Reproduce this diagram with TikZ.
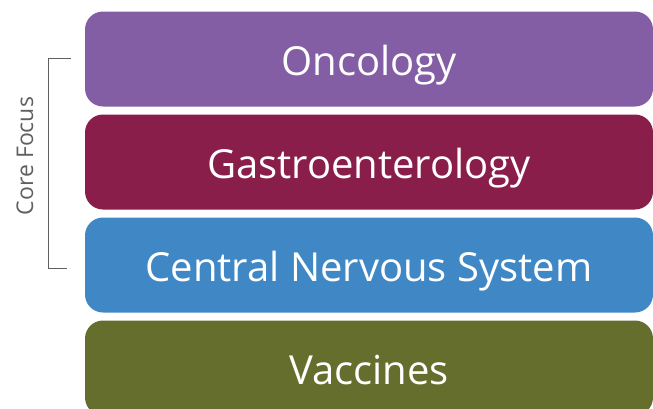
\documentclass[tikz,border=0pt]{standalone}
\usepackage{fontspec}
\setmainfont{Open Sans}
\usetikzlibrary{positioning}

\definecolor{oncpurple}{RGB}{132,94,165}
\definecolor{gastromaroon}{RGB}{138,30,74}
\definecolor{cnsblue}{RGB}{63,136,197}
\definecolor{vaccolive}{RGB}{102,110,46}
\definecolor{bracketgray}{RGB}{96,96,96}

\tikzset{
  area/.style={rounded corners=18pt, minimum width=568pt, minimum height=95pt,
    inner sep=0pt, text height=36pt, text depth=3.5pt, text=white,
    font=\fontsize{40}{44}\selectfont}
}

\begin{document}
\begin{tikzpicture}[x=1pt, y=-1pt]
			\useasboundingbox (0,0) rectangle (653,408);
			\clip (0,0) rectangle (653,408);

			% therapeutic areas
			\node[area, fill=oncpurple]    (onc)   at (369,59)  {Oncology};
			\node[area, fill=gastromaroon] (gastro) at (369,162) {Gastroenterology};
			\node[area, fill=cnsblue]      (cns)   at (369,265) {Central Nervous System};
			\node[area, fill=vaccolive]    (vacc)  at (369,368) {Vaccines};

			% bracket
			\coordinate (btop) at (48,58);
			\coordinate (bbot) at (48,268);
			\draw[bracketgray, line width=1pt] ([xshift=23pt]btop) -- (btop) -- (bbot) -- ([xshift=19pt]bbot);
			\node[rotate=90, text=bracketgray, font=\fontsize{23}{26}\selectfont] (core) at (25,156) {Core Focus};
\end{tikzpicture}
\end{document}
